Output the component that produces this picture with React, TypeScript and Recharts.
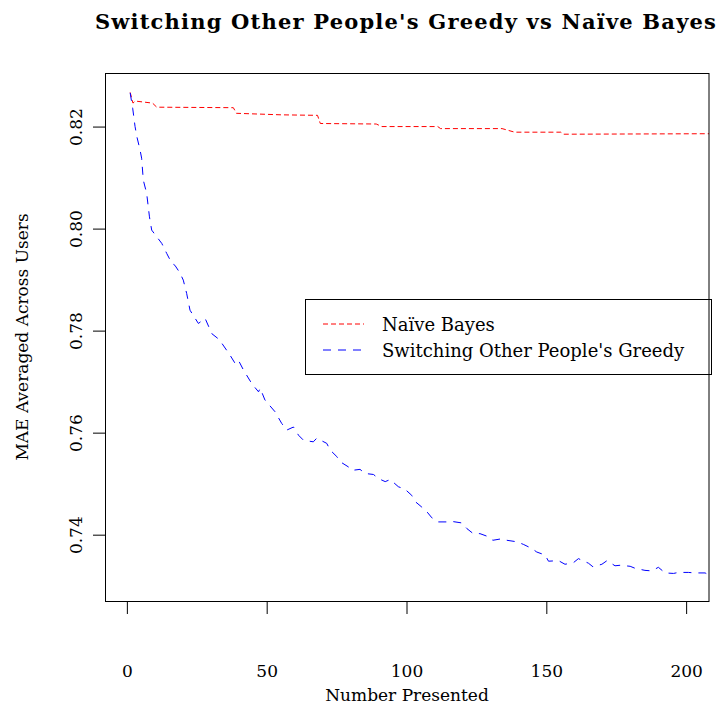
import { LineChart, Line, XAxis, YAxis, Legend } from 'recharts';

// Naive Bayes (red, short dashes)
const nbX = [1, 2, 2.8, 9, 10.5, 37.9, 39, 55, 68, 69, 89, 91, 111, 112, 134, 138.5, 155, 156, 210];
const nbY = [0.8268, 0.8247, 0.8251, 0.8247, 0.8239, 0.8238, 0.8227, 0.8224, 0.8223, 0.8207, 0.8206, 0.8201, 0.8201, 0.8197, 0.8197, 0.819, 0.819, 0.8186, 0.8187];

// Switching Other People's Greedy (blue, long dashes)
const spgX = [
  1, 1.9, 2.75, 3.4, 4.5, 5.1, 5.7, 6.9, 7.9, 8.7, 10.5, 12.3, 14.1, 15.9, 17, 18.8, 20, 21.2, 22.4, 25.4,
  27.8, 30.2, 33.2, 33.8, 36.7, 38.5, 39.7, 41.5, 44.5, 46.9, 47.5, 49.2, 52.8, 55.2, 57, 59.4, 61.2, 63, 66.5, 67.7,
  71.3, 72.5, 74.9, 76.1, 79, 80.3, 83.2, 85, 88, 89.8, 92.2, 94, 96.9, 99.3, 101.7, 102.9, 105.3, 107.1, 108.9, 111.2,
  114.2, 116, 119.6, 121.4, 123.7, 126.1, 129.1, 130.7, 133.9, 135.7, 139.3, 141.6, 144.6, 146.4, 149.4, 150.6, 154.2, 156.5, 159.5, 161.3,
  164.9, 166.5, 169.7, 171.5, 174.4, 176.2, 179.8, 181.6, 185.1, 187.5, 189.9, 192.3, 195.3, 197.1, 200.6, 203, 206.6, 208.4, 210,
];
const spgY = [
  0.8267, 0.8237, 0.8201, 0.8181, 0.8156, 0.8139, 0.8096, 0.807, 0.8024, 0.7998, 0.7985, 0.7972, 0.7952, 0.7933, 0.7929, 0.7914, 0.79, 0.7874, 0.7841, 0.7815,
  0.7825, 0.7795, 0.7782, 0.7776, 0.7753, 0.7737, 0.7743, 0.7724, 0.7697, 0.7681, 0.7688, 0.7665, 0.7642, 0.7619, 0.7606, 0.7612, 0.7596, 0.7586, 0.7583, 0.759,
  0.758, 0.7567, 0.7554, 0.7544, 0.7534, 0.7527, 0.7529, 0.7521, 0.7519, 0.7511, 0.7505, 0.7509, 0.7495, 0.749, 0.7478, 0.7466, 0.7455, 0.7446, 0.7434, 0.7426,
  0.7426, 0.7427, 0.7424, 0.7413, 0.7403, 0.7403, 0.7397, 0.739, 0.7393, 0.739, 0.7387, 0.7382, 0.7374, 0.7367, 0.7361, 0.7349, 0.735, 0.7343, 0.7346, 0.7354,
  0.7345, 0.7338, 0.7343, 0.735, 0.734, 0.7341, 0.7339, 0.7335, 0.7331, 0.733, 0.7337, 0.7326, 0.7325, 0.7327, 0.7327, 0.7326, 0.7326, 0.7321, 0.7318,
];

const xTicks = [0, 50, 100, 150, 200];
const yTicks = [0.74, 0.76, 0.78, 0.8, 0.82];

const nbData = nbX.map((x, i) => ({ x, mae: nbY[i] }));
const spgData = spgX.map((x, i) => ({ x, mae: spgY[i] }));

const FONT = '"DejaVu Serif", serif';

const series = [
  { name: 'Naïve Bayes', color: '#ff0000', dash: '5 3' },
  { name: "Switching Other People's Greedy", color: '#0000ff', dash: '8 7' },
];

const XTick = ({ x, y, payload }: any) => (
  <text x={x} y={y + 63} textAnchor="middle" fontFamily={FONT} fontSize={17} fill="#000">
    {payload.value}
  </text>
);

const YTick = ({ x, y, payload }: any) => (
  <text x={x - 11} y={y} textAnchor="middle" fontFamily={FONT} fontSize={17} fill="#000" transform={`rotate(-90, ${x - 11}, ${y})`}>
    {Number(payload.value).toFixed(2)}
  </text>
);

const LegendBox = () => (
  <div style={{ width: 407, height: 76, border: '1px solid #000', boxSizing: 'border-box', background: '#fff' }}>
    <svg width={405} height={74}>
      {series.map((s, i) => (
        <g key={s.name}>
          <line x1={17} x2={58} y1={24 + i * 26} y2={24 + i * 26} stroke={s.color} strokeDasharray={s.dash} strokeWidth={1} />
          <text x={76} y={31 + i * 26} fontFamily={FONT} fontSize={18} fill="#000">{s.name}</text>
        </g>
      ))}
    </svg>
  </div>
);

export default function App() {
  return (
    <div style={{ position: 'absolute', left: 0, top: 0, width: 721, height: 706, background: '#fff' }}>
      <LineChart width={721} height={706} margin={{ top: 73, right: 12, bottom: 0, left: 0 }}>
        <XAxis
          dataKey="x"
          type="number"
          domain={[-8, 208]}
          allowDataOverflow
          ticks={xTicks}
          interval={0}
          height={104}
          axisLine={false}
          tickLine={{ stroke: '#000' }}
          tickSize={12}
          tickMargin={0}
          tick={XTick}
        />
        <YAxis
          type="number"
          domain={[0.7269, 0.8306]}
          allowDataOverflow
          ticks={yTicks}
          interval={0}
          width={105}
          axisLine={false}
          tickLine={{ stroke: '#000' }}
          tickSize={12}
          tickMargin={0}
          tick={YTick}
        />
        <Legend
          layout="vertical"
          align="center"
          verticalAlign="middle"
          content={LegendBox}
          wrapperStyle={{ position: 'absolute', left: 305, top: 299, width: 407, height: 76 }}
        />
        <Line
          data={nbData}
          dataKey="mae"
          name={series[0].name}
          type="linear"
          stroke={series[0].color}
          strokeDasharray={series[0].dash}
          strokeWidth={1}
          dot={false}
          isAnimationActive={false}
        />
        <Line
          data={spgData}
          dataKey="mae"
          name={series[1].name}
          type="linear"
          stroke={series[1].color}
          strokeDasharray={series[1].dash}
          strokeWidth={1}
          dot={false}
          isAnimationActive={false}
        />
      </LineChart>
      <svg width={721} height={706} style={{ position: 'absolute', left: 0, top: 0, pointerEvents: 'none' }}>
        <rect x={105.5} y={73.5} width={603.5} height={528} fill="none" stroke="#000" strokeWidth={1} />
        <text x={406} y={29} textAnchor="middle" fontFamily={FONT} fontWeight="bold" fontSize={21} letterSpacing={1.2} fill="#000">
          Switching Other People's Greedy vs Naïve Bayes
        </text>
        <text x={407} y={701} textAnchor="middle" fontFamily={FONT} fontSize={17} fill="#000">
          Number Presented
        </text>
        <text x={28} y={337} textAnchor="middle" fontFamily={FONT} fontSize={17} fill="#000" transform="rotate(-90, 28, 337)">
          MAE Averaged Across Users
        </text>
      </svg>
    </div>
  );
}
